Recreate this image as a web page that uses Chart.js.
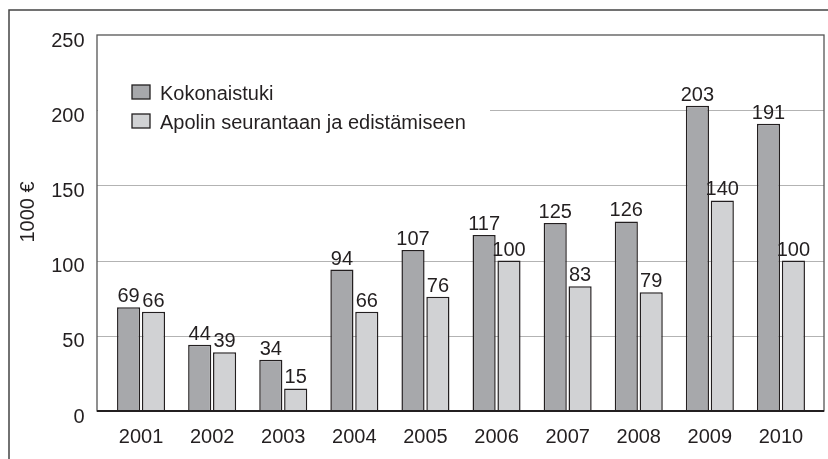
<!DOCTYPE html>
<html lang="fi">
<head>
    <meta charset="UTF-8">
    <title>Kokonaistuki</title>
    <style>
        html, body { margin: 0; padding: 0; background: #fff; }
        .chart-container { width: 828px; height: 459px; position: relative; }
    </style>
</head>
<body>
    <div class="chart-container">
        <canvas id="tukiChart"></canvas>
    </div>

    <script src="https://cdn.jsdelivr.net/npm/chart.js"></script>
    <script>
        const years = ['2001', '2002', '2003', '2004', '2005', '2006', '2007', '2008', '2009', '2010'];
        const kokonaistuki = [69, 44, 34, 94, 107, 117, 125, 126, 203, 191];
        const apolinTuki = [66, 39, 15, 66, 76, 100, 83, 79, 140, 100];
        const seriesNames = ['Kokonaistuki', 'Apolin seurantaan ja edistämiseen'];
        const yTicks = [0, 50, 100, 150, 200, 250];
        const yTitle = '1000 €';

        const FONT = '"Liberation Sans", Arial, sans-serif';
        const FONT_SIZE = 20;
        const INK = '#231f20';

        // frame, plot box, grid lines, legend, axis title and value labels
        const decorations = {
            id: 'decorations',
            beforeDatasetsDraw(chart) {
                const ctx = chart.ctx;
                const area = chart.chartArea;
                const y = chart.scales.y;
                const boxLeft = area.left - 8.5;
                const boxRight = area.right + 7.5;

                ctx.save();
                // outer frame (only top and left are in view)
                ctx.strokeStyle = '#444';
                ctx.lineWidth = 1.5;
                ctx.beginPath();
                ctx.moveTo(9, chart.height);
                ctx.lineTo(9, 10);
                ctx.lineTo(chart.width, 10);
                ctx.stroke();

                // grid lines
                ctx.strokeStyle = '#b3b3b3';
                ctx.lineWidth = 1.2;
                yTicks.slice(1, -1).forEach(v => {
                    const py = Math.round(y.getPixelForValue(v)) + 0.5;
                    ctx.beginPath();
                    ctx.moveTo(boxLeft, py);
                    ctx.lineTo(boxRight, py);
                    ctx.stroke();
                });

                // legend background hides the grid line
                ctx.fillStyle = '#fff';
                ctx.fillRect(boxLeft + 1, 62, 392, 82);

                // legend entries
                ctx.font = FONT_SIZE + 'px ' + FONT;
                ctx.textBaseline = 'alphabetic';
                chart.data.datasets.forEach((ds, i) => {
                    const by = 85 + i * 29;
                    ctx.fillStyle = ds.backgroundColor;
                    ctx.fillRect(132, by, 18, 14);
                    ctx.strokeStyle = INK;
                    ctx.lineWidth = 1.3;
                    ctx.strokeRect(132, by, 18, 14);
                    ctx.fillStyle = INK;
                    ctx.fillText(ds.label, 160, by + 14.5);
                });

                // y axis title
                ctx.save();
                ctx.translate(28, 212);
                ctx.rotate(-Math.PI / 2);
                ctx.textAlign = 'center';
                ctx.textBaseline = 'middle';
                ctx.fillText(yTitle, 0, 0);
                ctx.restore();

                // plot box
                ctx.strokeStyle = '#555';
                ctx.lineWidth = 1.3;
                ctx.strokeRect(boxLeft, y.getPixelForValue(250), boxRight - boxLeft, y.getPixelForValue(0) - y.getPixelForValue(250));
                ctx.restore();
            },
            afterDatasetsDraw(chart) {
                const ctx = chart.ctx;
                const area = chart.chartArea;
                const y0 = chart.scales.y.getPixelForValue(0);
                ctx.save();
                // x axis line
                ctx.strokeStyle = INK;
                ctx.lineWidth = 2;
                ctx.beginPath();
                ctx.moveTo(area.left - 8.5, y0);
                ctx.lineTo(area.right + 7.5, y0);
                ctx.stroke();
                // value labels
                ctx.font = FONT_SIZE + 'px ' + FONT;
                ctx.fillStyle = INK;
                ctx.textAlign = 'center';
                ctx.textBaseline = 'alphabetic';
                chart.data.datasets.forEach((ds, i) => {
                    chart.getDatasetMeta(i).data.forEach((bar, j) => {
                        ctx.fillText(String(ds.data[j]), bar.x, bar.y - 5);
                    });
                });
                ctx.restore();
            }
        };

        const ctx = document.getElementById('tukiChart').getContext('2d');
        new Chart(ctx, {
            type: 'bar',
            data: {
                labels: years,
                datasets: [{
                    label: seriesNames[0],
                    data: kokonaistuki,
                    backgroundColor: '#a7a8ab',
                    borderColor: INK,
                    borderWidth: 1.5
                }, {
                    label: seriesNames[1],
                    data: apolinTuki,
                    backgroundColor: '#d1d2d4',
                    borderColor: INK,
                    borderWidth: 1.5
                }]
            },
            options: {
                responsive: true,
                maintainAspectRatio: false,
                animation: false,
                datasets: {
                    bar: { categoryPercentage: 0.70, barPercentage: 0.93 }
                },
                layout: { padding: { top: 35, right: 11.5, left: 0, bottom: 0 } },
                plugins: {
                    legend: { display: false },
                    tooltip: { enabled: false }
                },
                scales: {
                    x: {
                        grid: { display: false, drawTicks: false },
                        border: { display: false },
                        ticks: {
                            color: INK,
                            padding: 14,
                            font: { family: FONT, size: FONT_SIZE }
                        },
                        afterFit(scale) { scale.height = 48; }
                    },
                    y: {
                        min: 0,
                        max: 250,
                        afterBuildTicks(scale) { scale.ticks = yTicks.map(v => ({ value: v })); },
                        grid: { display: false, drawTicks: false },
                        border: { display: false },
                        ticks: {
                            color: INK,
                            padding: 21,
                            labelOffset: 6,
                            font: { family: FONT, size: FONT_SIZE }
                        },
                        afterFit(scale) { scale.width = 105.5; }
                    }
                }
            },
            plugins: [decorations]
        });
    </script>
</body>
</html>
